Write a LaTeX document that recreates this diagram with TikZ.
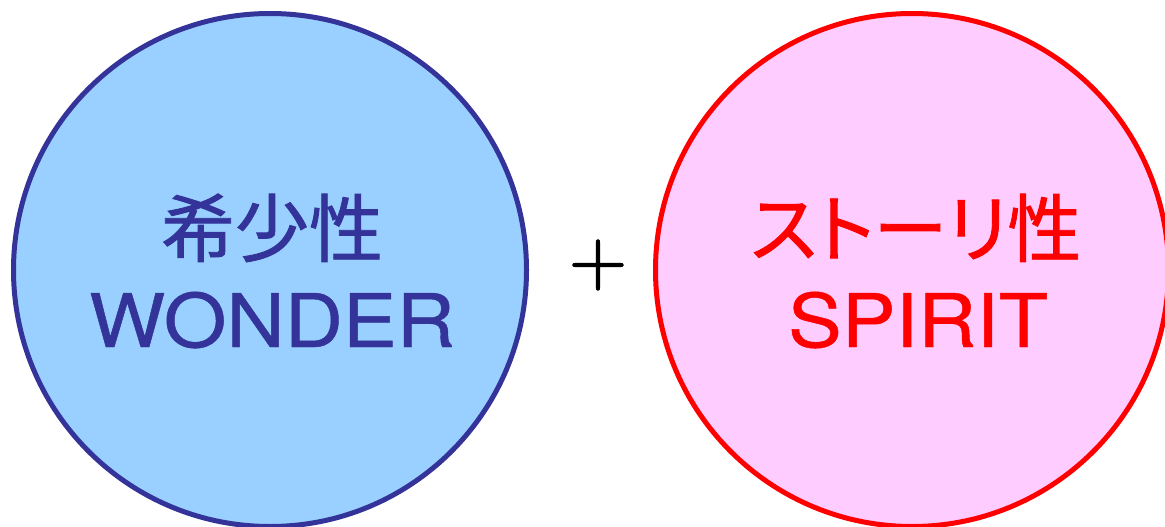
\documentclass[tikz,border=0pt]{standalone}
\usepackage{fontspec}
\setmainfont{Noto Sans CJK JP}
\newfontfamily\kanjifont{Noto Sans CJK JP}[FakeBold=1.2]
\newfontfamily\kanafont{Noto Sans CJK JP}[FakeBold=1.2, RawFeature=+palt]
\newfontfamily\latinfont{TeX Gyre Heros}[FakeBold=0.6]
\newfontfamily\plusfont{Latin Modern Roman}[FakeBold=1.6]
\usetikzlibrary{positioning}

\definecolor{wonderline}{HTML}{333399}
\definecolor{wonderfill}{HTML}{99D0FF}
\definecolor{spiritline}{HTML}{FF0000}
\definecolor{spiritfill}{HTML}{FFCCFF}

\newcommand{\widecaps}[1]{\scalebox{1.09}[1]{\latinfont #1}}

\tikzset{
  ring/.style={circle, line width=5pt, minimum size=513pt, inner sep=0pt},
  ringtext/.style={anchor=base, inner sep=0pt, font=\fontsize{74}{84}\selectfont},
}

\begin{document}
\begin{tikzpicture}[x=1pt,y=-1pt]
\useasboundingbox (0,0) rectangle (1165,527);
\node[ring, draw=wonderline, fill=wonderfill] (wonder) at (270,270) {};
\node[ring, draw=spiritline, fill=spiritfill] (spirit) at (912,270) {};
\node[ringtext, text=wonderline] (wonderjp) at (272,256) {\kanjifont 希少性};
\node[ringtext, text=wonderline] (wonderen) at (272,347) {\widecaps{WONDER}};
\node[ringtext, text=spiritline] (spiritjp) at (916,256) {\kanafont ストーリ性};
\node[ringtext, text=spiritline] (spiritEN) at (918,347) {\widecaps{SPIRIT}};
\node[font=\plusfont\fontsize{80}{80}\selectfont, inner sep=0pt] (plus) at (598,265) {+};
\end{tikzpicture}
\end{document}
